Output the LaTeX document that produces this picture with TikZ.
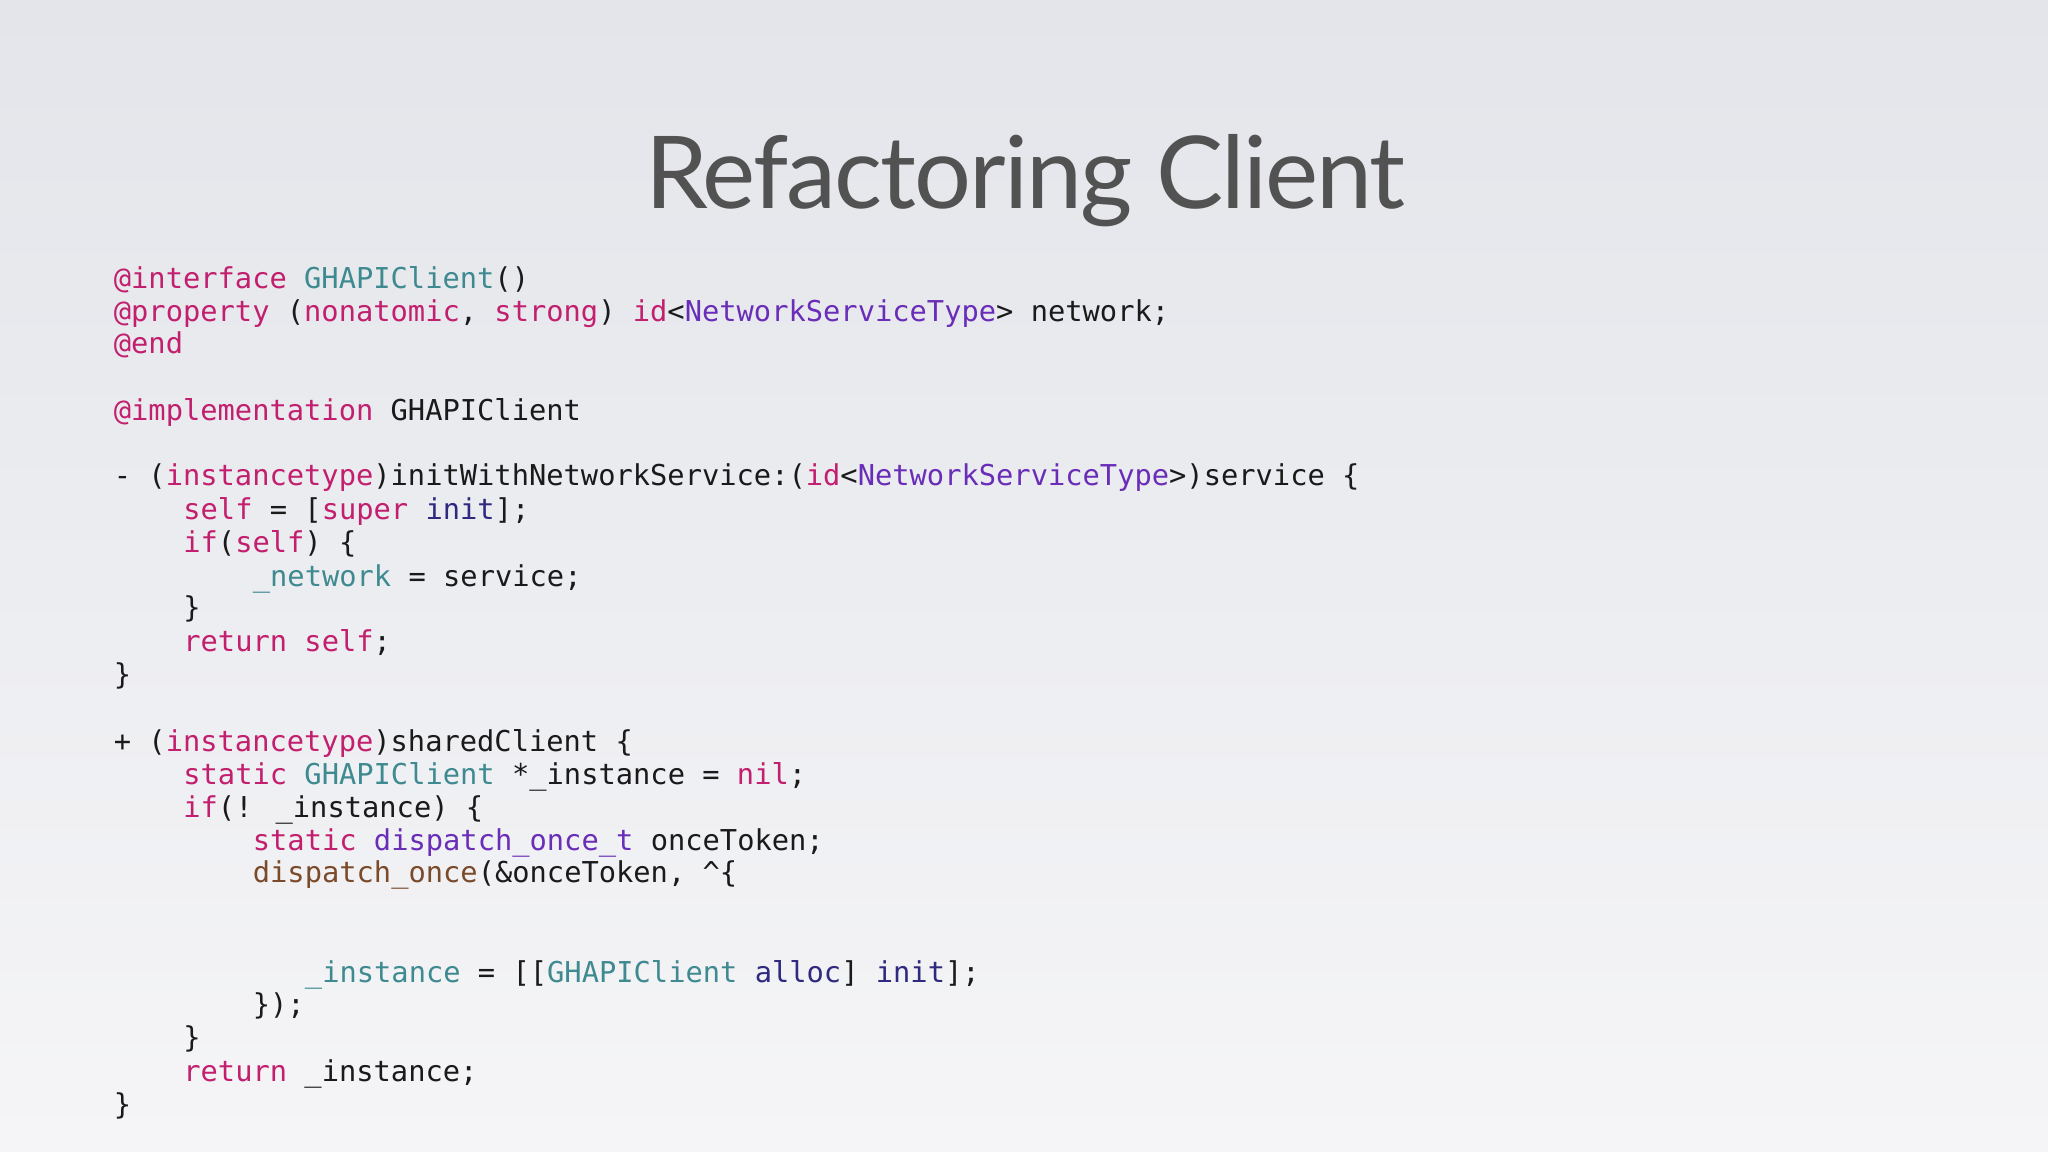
\documentclass[tikz,border=0pt]{standalone}
\usepackage{fontspec}
\setmainfont{Lato}
\newfontfamily\codefont{DejaVu Sans Mono}
\definecolor{kw}{HTML}{C21F6E}
\definecolor{cl}{HTML}{3E8A90}
\definecolor{ty}{HTML}{6A2DB8}
\definecolor{fnb}{HTML}{7A4A2A}
\definecolor{me}{HTML}{2F2A80}
\definecolor{tx}{HTML}{1A1A1A}
\definecolor{bgtop}{HTML}{E3E5EA}
\definecolor{bgbot}{HTML}{F5F5F7}
\newcommand{\kw}[1]{\textcolor{kw}{#1}}
\newcommand{\cl}[1]{\textcolor{cl}{#1}}
\newcommand{\ty}[1]{\textcolor{ty}{#1}}
\newcommand{\fnb}[1]{\textcolor{fnb}{#1}}
\newcommand{\me}[1]{\textcolor{me}{#1}}
\begin{document}
\begin{tikzpicture}[x=1pt,y=-1pt,
  codeline/.style={anchor=base west,inner sep=0pt,font=\codefont\fontsize{22}{25}\selectfont,text=tx}]
\shade[top color=bgtop,bottom color=bgbot] (0,0) rectangle (1568,882);
\useasboundingbox (0,0) rectangle (1568,882);
\node[anchor=base,text=black!68,font=\fontsize{77}{84}\selectfont\addfontfeature{LetterSpace=-2}] (title) at (785,160) {Refactoring Client};
\def\cw{13.3}
\newcommand{\codeln}[4]{\node[codeline] (#1) at ({87+#2*\cw},#3) {#4};}
\codeln{a1}{0}{221}{\kw{@interface} \cl{GHAPIClient}()}
\codeln{a2}{0}{246}{\kw{@property} (\kw{nonatomic}, \kw{strong}) \kw{id}<\ty{NetworkServiceType}> network;}
\codeln{a3}{0}{271}{\kw{@end}}
\codeln{a4}{0}{322}{\kw{@implementation} GHAPIClient}
\codeln{a5}{0}{372}{- (\kw{instancetype})initWithNetworkService:(\kw{id}<\ty{NetworkServiceType}>)service \{}
\codeln{a6}{4}{398}{\kw{self} = [\kw{super} \me{init}];}
\codeln{a7}{4}{423}{\kw{if}(\kw{self}) \{}
\codeln{a8}{8}{449}{\cl{\_network} = service;}
\codeln{a9}{4}{473}{\}}
\codeln{a10}{4}{499}{\kw{return} \kw{self};}
\codeln{a11}{0}{524}{\}}
\codeln{b1}{0}{575}{+ (\kw{instancetype})sharedClient \{}
\codeln{b2}{4}{601}{\kw{static} \cl{GHAPIClient} *\_instance = \kw{nil};}
\codeln{b3}{4}{626}{\kw{if}(! \_instance) \{}
\codeln{b4}{8}{651}{\kw{static} \ty{dispatch\_once\_t} onceToken;}
\codeln{b5}{8}{676}{\fnb{dispatch\_once}(\&onceToken, \textasciicircum\{}
\codeln{b6}{11}{752}{\cl{\_instance} = [[\cl{GHAPIClient} \me{alloc}] \me{init}];}
\codeln{b7}{8}{777}{\});}
\codeln{b8}{4}{802}{\}}
\codeln{b9}{4}{828}{\kw{return} \_instance;}
\codeln{b10}{0}{853}{\}}
\end{tikzpicture}
\end{document}
